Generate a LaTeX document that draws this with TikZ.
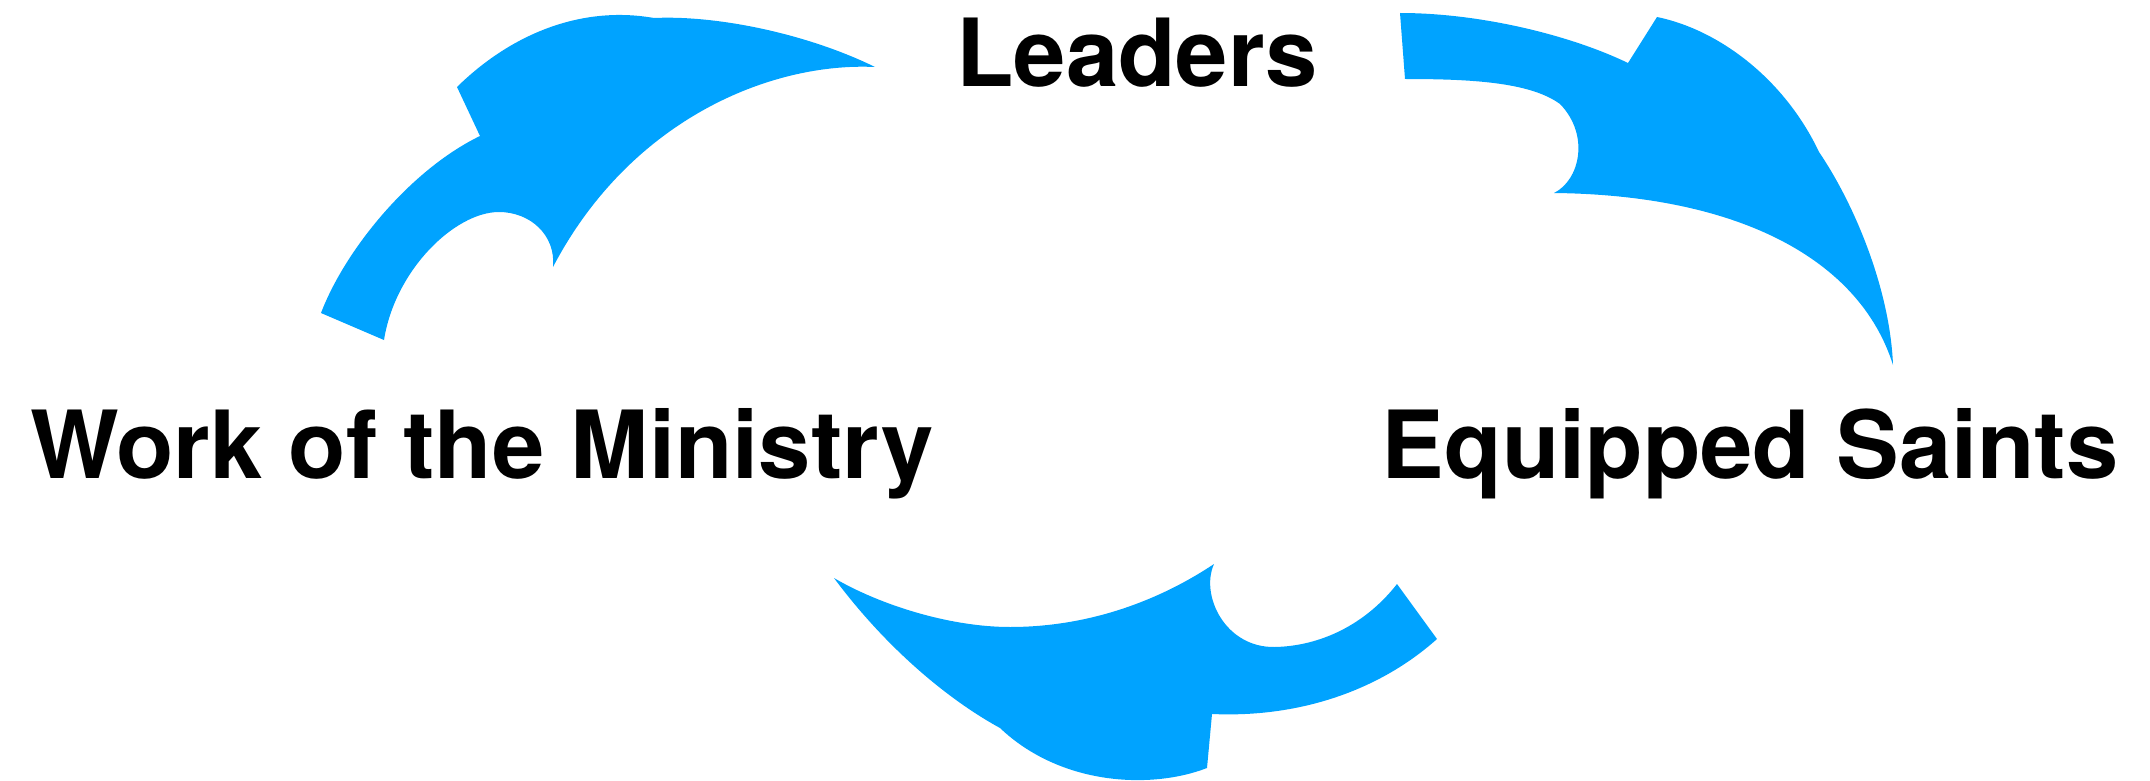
\documentclass[tikz,border=0pt]{standalone}
\usepackage{fontspec}
\setmainfont{TeX Gyre Heros}
\definecolor{arrowblue}{RGB}{0,163,255}
\begin{document}
\begin{tikzpicture}[x=1pt,y=-1pt,
  band/.style={fill=arrowblue, draw=none},
  lbl/.style={anchor=base, inner sep=0pt, font=\fontsize{94}{100}\selectfont\bfseries}]
\useasboundingbox (0,0) rectangle (2150,781);
% top-left arrow
\fill[band] (384,340) -- (321,313)
  .. controls (345,250) and (410,170) .. (480,136)
  -- (457,87)
  .. controls (510,35) and (580,5) .. (654,18)
  .. controls (720,15) and (810,35) .. (875,67)
  .. controls (770,62) and (630,120) .. (553,267)
  .. controls (556,235) and (530,212) .. (499,212)
  .. controls (455,212) and (395,270) .. (384,340)
  -- cycle;
% right arrow
\fill[band] (1405,79) -- (1400,13)
  .. controls (1480,13) and (1570,35) .. (1628,63)
  -- (1657,17)
  .. controls (1720,30) and (1785,80) .. (1819,152)
  .. controls (1855,205) and (1890,290) .. (1893,365)
  .. controls (1860,260) and (1740,195) .. (1554,193)
  .. controls (1580,180) and (1590,135) .. (1560,104)
  .. controls (1530,82) and (1470,79) .. (1405,79)
  -- cycle;
% bottom arrow
\fill[band] (834,578)
  .. controls (880,605) and (950,627) .. (1010,627)
  .. controls (1090,627) and (1160,600) .. (1214,564)
  .. controls (1200,595) and (1225,648) .. (1275,647)
  .. controls (1320,646) and (1365,625) .. (1397,584)
  -- (1437,639)
  .. controls (1380,690) and (1300,718) .. (1212,714)
  -- (1207,768)
  .. controls (1150,790) and (1060,785) .. (1000,728)
  .. controls (940,695) and (880,640) .. (834,578)
  -- cycle;
\node[lbl] (leaders) at (1137,87) {Leaders};
\node[lbl] (saints) at (1750,478) {Equipped Saints};
\node[lbl] (work) at (482,478) {Work of the Ministry};
\end{tikzpicture}
\end{document}
